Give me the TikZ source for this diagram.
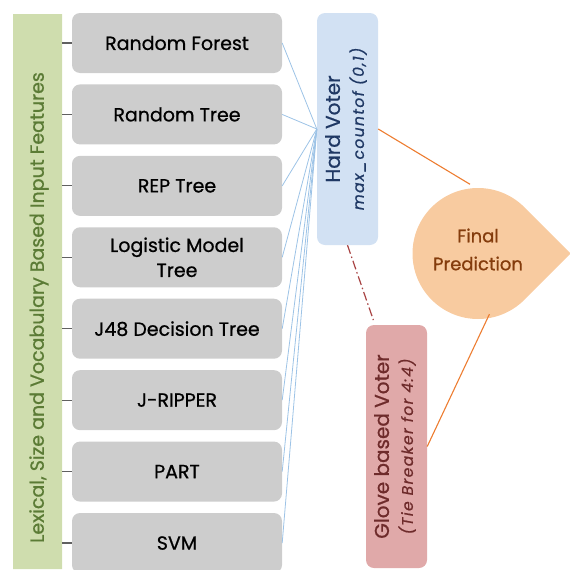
\documentclass[tikz,border=0pt]{standalone}
\usepackage{fontspec}
\setmainfont{Poppins}[FakeBold=0.8]
\usepackage{graphicx}
\usepackage{tikz}
\usetikzlibrary{shapes.misc,calc}

\definecolor{boxgray}{HTML}{CDCDCD}
\definecolor{featfill}{HTML}{CFDDAE}
\definecolor{feattext}{HTML}{5B7B35}
\definecolor{hvfill}{HTML}{D2E1F3}
\definecolor{hvtext}{HTML}{1F3864}
\definecolor{gvfill}{HTML}{E0A9A9}
\definecolor{gvtext}{HTML}{6E2B2B}
\definecolor{fpfill}{HTML}{F8CBA0}
\definecolor{fptext}{HTML}{843C0C}
\definecolor{wireblue}{HTML}{9DC3E6}
\definecolor{lineorange}{HTML}{ED7D31}
\definecolor{tiered}{HTML}{A84343}
\definecolor{tickgray}{HTML}{606060}
\newcommand\subline[1]{{\fontsize{15.5}{17}\selectfont\itshape\addfontfeature{LetterSpace=9}#1}}

\begin{document}
\begin{tikzpicture}[x=1pt, y=-1pt,
    model/.style={fill=boxgray, rounded corners=8pt, minimum width=210pt, minimum height=60pt,
        align=center, inner sep=2pt, font=\fontsize{19}{25}\selectfont},
    voter/.style={rounded corners=8pt, minimum width=61pt, inner sep=0pt, font=\fontsize{20}{22}\selectfont},
    wire/.style={draw=wireblue, line width=0.8pt},
    orangeline/.style={draw=lineorange, line width=1.1pt},
    tick/.style={draw=tickgray, line width=1.2pt}]
    \useasboundingbox (0,0) rectangle (570,570);
    % input features bar
    \node[chamfered rectangle, chamfered rectangle corners={north west,south east},
        chamfered rectangle xsep=5pt, chamfered rectangle ysep=6pt, fill=featfill,
        minimum width=49pt, minimum height=555pt, inner sep=0pt] (feat) at (37.5,291.5) {};
    \node[text=feattext, font=\fontsize{19}{21}\selectfont] (featlbl) at (39,307.5)
        {\rotatebox{90}{Lexical, Size and Vocabulary Based Input Features}};
    % voters
    \node[voter, fill=hvfill, text=hvtext, minimum height=232pt] (hv) at (347.5,129)
        {\rotatebox{90}{\begin{tabular}{@{}c@{}}Hard Voter\\[2pt]\subline{max\_countof (0,1)}\end{tabular}}};
    \node[voter, fill=gvfill, text=gvtext, minimum height=243pt] (gv) at (396.5,446.5)
        {\rotatebox{90}{\begin{tabular}{@{}c@{}}Glove based Voter\\[2pt]\subline{(Tie Breaker for 4:4)}\end{tabular}}};
    % classifiers
    \foreach \name/\txt [count=\i from 0] in {rf/Random Forest, rt/Random Tree, rep/REP Tree,
        lmt/{Logistic Model\\Tree}, jdt/J48 Decision Tree, jrip/J-RIPPER, part/PART, svm/SVM} {
        \node[model] (\name) at (177,43+71.43*\i) {\txt};
        \draw[tick] (feat.east |- \name.west) -- (\name.west);
        \draw[wire] (\name.east) -- (hv.west);
    }
    % final prediction
    \coordinate (fpc) at (478,253.5);
    \fill[fpfill] ($(fpc)+(92.6,0)$) -- ($(fpc)+(-45:65.5)$) arc[start angle=-45, end angle=-315, radius=65.5] -- cycle;
    \node[circle, minimum size=131pt, inner sep=0pt, align=center, text=fptext,
        font=\fontsize{18}{28}\selectfont, yshift=4pt] (fp) at (fpc) {Final\\Prediction};
    \draw[orangeline] (hv.east) -- (fp.97);
    \draw[orangeline] (gv.east) -- (fp.-80);
    \draw[tiered, line width=1.2pt, dash pattern=on 9pt off 3pt on 1.5pt off 3pt, shorten >=5pt]
        (hv.south) -- ($(gv.north west)!0.3!(gv.north)$);
\end{tikzpicture}
\end{document}
